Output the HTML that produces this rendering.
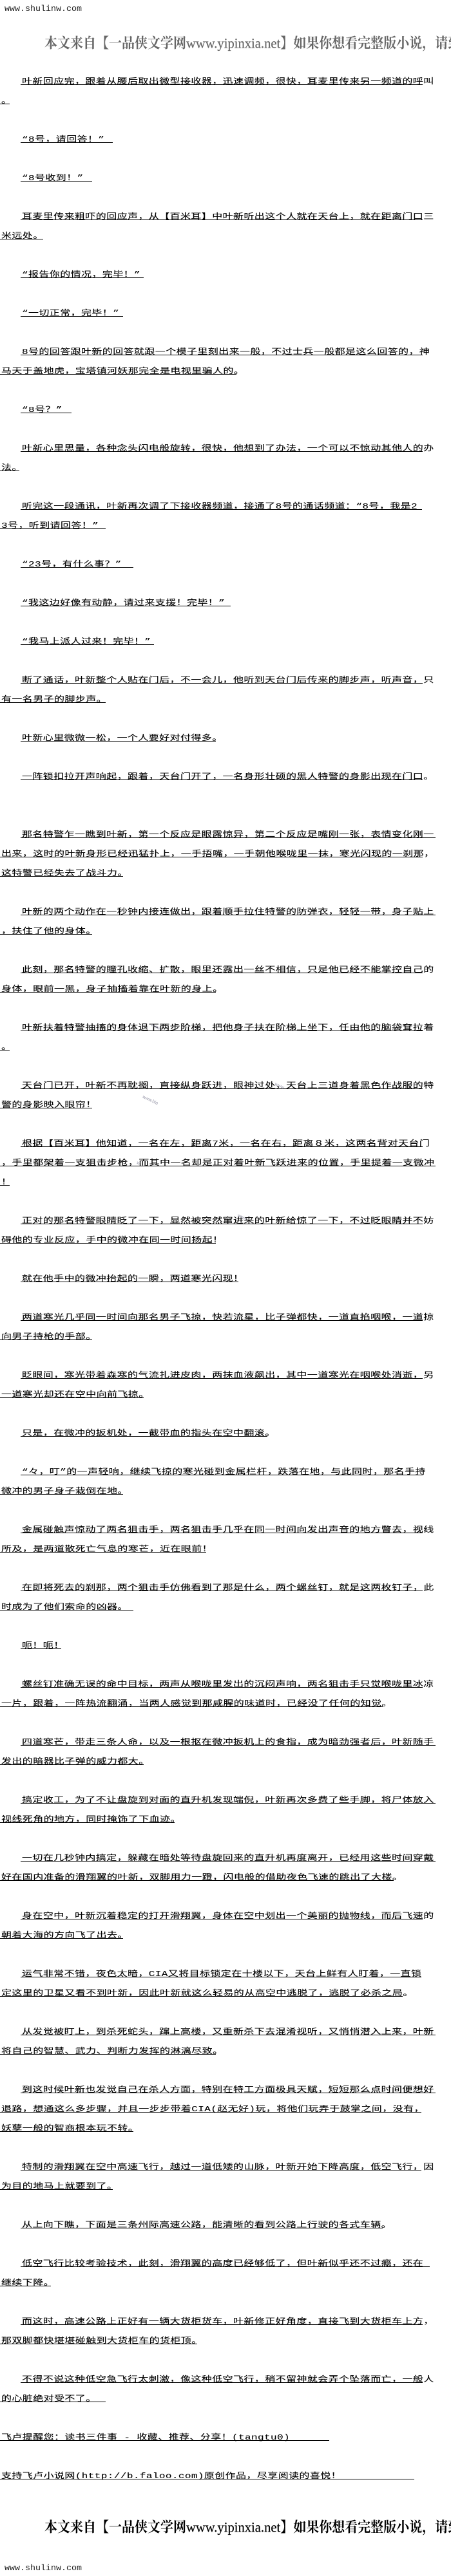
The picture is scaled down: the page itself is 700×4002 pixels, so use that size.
<!DOCTYPE html>
<html lang="zh">
<head>
<meta charset="utf-8">
<title>Novel page</title>
<style>
html,body{margin:0;padding:0;background:#fff}
#p{position:relative;width:700px;height:4002px;overflow:hidden;background:#fff;color:#000;font-family:"Liberation Serif","WenQuanYi Zen Hei","Noto Sans CJK SC",sans-serif}
.r{position:absolute;top:calc(102px + 30px*var(--k));left:0;width:calc(var(--w)*1px);height:30px;box-sizing:border-box;border-bottom:1px solid #000;white-space:nowrap}
.i{left:32px;width:calc(var(--w)*1px - 32px)}
.r span{position:absolute;left:2px;bottom:-2px;font-size:16px;line-height:16px;letter-spacing:.4px;transform:scaleY(.75);transform-origin:0 100%;font-family:"Liberation Mono","WenQuanYi Zen Hei","Noto Sans CJK SC",sans-serif;-webkit-text-stroke:.15px #000}
.s{position:absolute;left:7px;font:13.33px/16px "Liberation Mono",monospace;color:#222}
.b{position:absolute;left:69px;width:640px;white-space:nowrap;overflow:visible;font-family:"Liberation Serif","Noto Serif CJK SC",serif;font-weight:700;font-size:20px;line-height:24px;transform:scaleY(1.1)}
.b em{font-style:normal;font-weight:400;font-size:20.6px;-webkit-text-stroke:.2px currentColor}
.w{position:absolute;font-size:7px;color:#99a;transform:rotate(25deg);font-family:"Liberation Sans",sans-serif}
</style>
</head>
<body>
<div id="p">
<div class="s" style="top:7px">www.shulinw.com</div>
<div class="b" style="top:56px;color:#666">本文来自【一品侠文学网<em>www.yipinxia.net</em>】如果你想看完整版小说，请到</div>

<div class="r i" style="--k:0;--w:656"><span>叶新回应完，跟着从腰后取出微型接收器，迅速调频，很快，耳麦里传来另一频道的呼叫</span></div>
<div class="r" style="--k:1;--w:15"><span>。</span></div>
<div class="r i" style="--k:3;--w:175"><span>“8号，请回答！”</span></div>
<div class="r i" style="--k:5;--w:143"><span>“8号收到！”</span></div>
<div class="r i" style="--k:7;--w:656"><span>耳麦里传来粗吓的回应声，从【百米耳】中叶新听出这个人就在天台上，就在距离门口三</span></div>
<div class="r" style="--k:8;--w:67"><span>米远处。</span></div>
<div class="r i" style="--k:10;--w:223"><span>“报告你的情况，完毕！”</span></div>
<div class="r i" style="--k:12;--w:191"><span>“一切正常，完毕！”</span></div>
<div class="r i" style="--k:14;--w:656"><span>8号的回答跟叶新的回答就跟一个模子里刻出来一般，不过士兵一般都是这么回答的，神</span></div>
<div class="r" style="--k:15;--w:367"><span>马天于盖地虎，宝塔镇河妖那完全是电视里骗人的。</span></div>
<div class="r i" style="--k:17;--w:111"><span>“8号？”</span></div>
<div class="r i" style="--k:19;--w:656"><span>叶新心里思量，各种念头闪电般旋转，很快，他想到了办法，一个可以不惊动其他人的办</span></div>
<div class="r" style="--k:20;--w:30"><span>法。</span></div>
<div class="r i" style="--k:22;--w:655"><span>听完这一段通讯，叶新再次调了下接收器频道，接通了8号的通话频道：“8号，我是2</span></div>
<div class="r" style="--k:23;--w:164"><span>3号，听到请回答！”</span></div>
<div class="r i" style="--k:25;--w:207"><span>“23号，有什么事？”</span></div>
<div class="r i" style="--k:27;--w:358"><span>“我这边好像有动静，请过来支援！完毕！”</span></div>
<div class="r i" style="--k:29;--w:239"><span>“我马上派人过来！完毕！”</span></div>
<div class="r i" style="--k:31;--w:656"><span>断了通话，叶新整个人贴在门后，不一会儿，他听到天台门后传来的脚步声，听声音，只</span></div>
<div class="r" style="--k:32;--w:164"><span>有一名男子的脚步声。</span></div>
<div class="r i" style="--k:34;--w:335"><span>叶新心里微微一松，一个人要好对付得多。</span></div>
<div class="r i" style="--k:36;--w:656"><span>一阵锁扣拉开声响起，跟着，天台门开了，一名身形壮硕的黑人特警的身影出现在门口。</span></div>
<div class="r i" style="--k:39;--w:676"><span>那名特警乍一瞧到叶新，第一个反应是眼露惊异，第二个反应是嘴刚一张，表情变化刚一</span></div>
<div class="r" style="--k:40;--w:656"><span>出来，这时的叶新身形已经迅猛扑上，一手捂嘴，一手朝他喉咙里一抹，寒光闪现的一刹那，</span></div>
<div class="r" style="--k:41;--w:191"><span>这特警已经失去了战斗力。</span></div>
<div class="r i" style="--k:43;--w:676"><span>叶新的两个动作在一秒钟内接连做出，跟着顺手拉住特警的防弹衣，轻轻一带，身子贴上</span></div>
<div class="r" style="--k:44;--w:143"><span>，扶住了他的身体。</span></div>
<div class="r i" style="--k:46;--w:656"><span>此刻，那名特警的瞳孔收缩、扩散，眼里还露出一丝不相信，只是他已经不能掌控自己的</span></div>
<div class="r" style="--k:47;--w:335"><span>身体，眼前一黑，身子抽搐着靠在叶新的身上。</span></div>
<div class="r i" style="--k:49;--w:656"><span>叶新扶着特警抽搐的身体退下两步阶梯，把他身子扶在阶梯上坐下，任由他的脑袋耷拉着</span></div>
<div class="r" style="--k:50;--w:15"><span>。</span></div>
<div class="r i" style="--k:52;--w:656"><span>天台门已开，叶新不再耽搁，直接纵身跃进，眼神过处，天台上三道身着黑色作战服的特</span></div>
<div class="r" style="--k:53;--w:143"><span>警的身影映入眼帘！</span></div>
<div class="r i" style="--k:55;--w:656"><span>根据【百米耳】他知道，一名在左，距离7米，一名在右，距离８米，这两名背对天台门</span></div>
<div class="r" style="--k:56;--w:676"><span>，手里都架着一支狙击步枪，而其中一名却是正对着叶新飞跃进来的位置，手里提着一支微冲</span></div>
<div class="r" style="--k:57;--w:15"><span>！</span></div>
<div class="r i" style="--k:59;--w:656"><span>正对的那名特警眼睛眨了一下，显然被突然窜进来的叶新给惊了一下，不过眨眼睛并不妨</span></div>
<div class="r" style="--k:60;--w:335"><span>碍他的专业反应，手中的微冲在同一时间扬起！</span></div>
<div class="r i" style="--k:62;--w:370"><span>就在他手中的微冲抬起的一瞬，两道寒光闪现！</span></div>
<div class="r i" style="--k:64;--w:656"><span>两道寒光几乎同一时间向那名男子飞掠，快若流星，比子弹都快，一道直掐咽喉，一道掠</span></div>
<div class="r" style="--k:65;--w:143"><span>向男子持枪的手部。</span></div>
<div class="r i" style="--k:67;--w:656"><span>眨眼间，寒光带着森寒的气流扎进皮肉，两抹血液飙出，其中一道寒光在咽喉处消逝，另</span></div>
<div class="r" style="--k:68;--w:223"><span>一道寒光却还在空中向前飞掠。</span></div>
<div class="r i" style="--k:70;--w:415"><span>只是，在微冲的扳机处，一截带血的指头在空中翻滚。</span></div>
<div class="r i" style="--k:72;--w:656"><span>“々，叮”的一声轻响，继续飞掠的寒光碰到金属栏杆，跌落在地，与此同时，那名手持</span></div>
<div class="r" style="--k:73;--w:191"><span>微冲的男子身子栽倒在地。</span></div>
<div class="r i" style="--k:75;--w:656"><span>金属碰触声惊动了两名狙击手，两名狙击手几乎在同一时间向发出声音的地方瞥去，视线</span></div>
<div class="r" style="--k:76;--w:320"><span>所及，是两道散死亡气息的寒芒，近在眼前！</span></div>
<div class="r i" style="--k:78;--w:656"><span>在即将死去的刹那，两个狙击手仿佛看到了那是什么，两个螺丝钉，就是这两枚钉子，此</span></div>
<div class="r" style="--k:79;--w:207"><span>时成为了他们索命的凶器。</span></div>
<div class="r i" style="--k:81;--w:95"><span>呃！呃！</span></div>
<div class="r i" style="--k:83;--w:656"><span>螺丝钉准确无误的命中目标，两声从喉咙里发出的沉闷声响，两名狙击手只觉喉咙里冰凉</span></div>
<div class="r" style="--k:84;--w:594"><span>一片，跟着，一阵热流翻涌，当两人感觉到那咸腥的味道时，已经没了任何的知觉。</span></div>
<div class="r i" style="--k:86;--w:676"><span>四道寒芒，带走三条人命，以及一根抠在微冲扳机上的食指，成为暗劲强者后，叶新随手</span></div>
<div class="r" style="--k:87;--w:223"><span>发出的暗器比子弹的威力都大。</span></div>
<div class="r i" style="--k:89;--w:676"><span>搞定收工，为了不让盘旋到对面的直升机发现端倪，叶新再次多费了些手脚，将尸体放入</span></div>
<div class="r" style="--k:90;--w:271"><span>视线死角的地方，同时掩饰了下血迹。</span></div>
<div class="r i" style="--k:92;--w:676"><span>一切在几秒钟内搞定，躲藏在暗处等待盘旋回来的直升机再度离开，已经用这些时间穿戴</span></div>
<div class="r" style="--k:93;--w:611"><span>好在国内准备的滑翔翼的叶新，双脚用力一蹬，闪电般的借助夜色飞速的跳出了大楼。</span></div>
<div class="r i" style="--k:95;--w:656"><span>身在空中，叶新沉着稳定的打开滑翔翼，身体在空中划出一个美丽的抛物线，而后飞速的</span></div>
<div class="r" style="--k:96;--w:191"><span>朝着大海的方向飞了出去。</span></div>
<div class="r i" style="--k:98;--w:654"><span>运气非常不错，夜色太暗，CIA又将目标锁定在十楼以下，天台上鲜有人盯着，一直锁</span></div>
<div class="r" style="--k:99;--w:625"><span>定这里的卫星又看不到叶新，因此叶新就这么轻易的从高空中逃脱了，逃脱了必杀之局。</span></div>
<div class="r i" style="--k:101;--w:676"><span>从发觉被盯上，到杀死蛇头，蹿上高楼，又重新杀下去混淆视听，又悄悄潜入上来，叶新</span></div>
<div class="r" style="--k:102;--w:335"><span>将自己的智慧、武力、判断力发挥的淋漓尽致。</span></div>
<div class="r i" style="--k:104;--w:676"><span>到这时候叶新也发觉自己在杀人方面，特别在特工方面极具天赋，短短那么点时间便想好</span></div>
<div class="r" style="--k:105;--w:654"><span>退路，想通这么多步骤，并且一步步带着CIA(赵无好)玩，将他们玩弄于鼓掌之间，没有，</span></div>
<div class="r" style="--k:106;--w:207"><span>妖孽一般的智商根本玩不转。</span></div>
<div class="r i" style="--k:108;--w:654"><span>特制的滑翔翼在空中高速飞行，越过一道低矮的山脉，叶新开始下降高度，低空飞行，因</span></div>
<div class="r" style="--k:109;--w:175"><span>为目的地马上就要到了。</span></div>
<div class="r i" style="--k:111;--w:594"><span>从上向下瞧，下面是三条州际高速公路，能清晰的看到公路上行驶的各式车辆。</span></div>
<div class="r i" style="--k:113;--w:667"><span>低空飞行比较考验技术，此刻，滑翔翼的高度已经够低了，但叶新似乎还不过瘾，还在</span></div>
<div class="r" style="--k:114;--w:79"><span>继续下降。</span></div>
<div class="r i" style="--k:116;--w:656"><span>而这时，高速公路上正好有一辆大货柜货车，叶新修正好角度，直接飞到大货柜车上方，</span></div>
<div class="r" style="--k:117;--w:306"><span>那双脚都快堪堪碰触到大货柜车的货柜顶。</span></div>
<div class="r i" style="--k:119;--w:656"><span>不得不说这种低空急飞行太刺激，像这种低空飞行，稍不留神就会弄个坠落而亡，一般人</span></div>
<div class="r" style="--k:120;--w:164"><span>的心脏绝对受不了。</span></div>
<div class="r" style="--k:122;--w:511"><span>飞卢提醒您：读书三件事 - 收藏、推荐、分享！(tangtu0)</span></div>
<div class="r" style="--k:124;--w:643"><span>支持飞卢小说网(http://b.faloo.com)原创作品，尽享阅读的喜悦！</span></div>

<div class="b" style="top:3915px;color:#000">本文来自【一品侠文学网<em>www.yipinxia.net</em>】如果你想看完整版小说，请到</div>
<div class="s" style="top:3983px">www.shulinw.com</div>

<div class="w" style="left:234px;top:1592px">www</div>
<div class="w" style="left:426px;top:1684px">www</div>
<div class="w" style="left:220px;top:1706px">www.bia</div>
<div class="w" style="left:212px;top:1804px">w</div>
<div class="w" style="left:368px;top:1888px">www</div>
</div>
</body>
</html>
